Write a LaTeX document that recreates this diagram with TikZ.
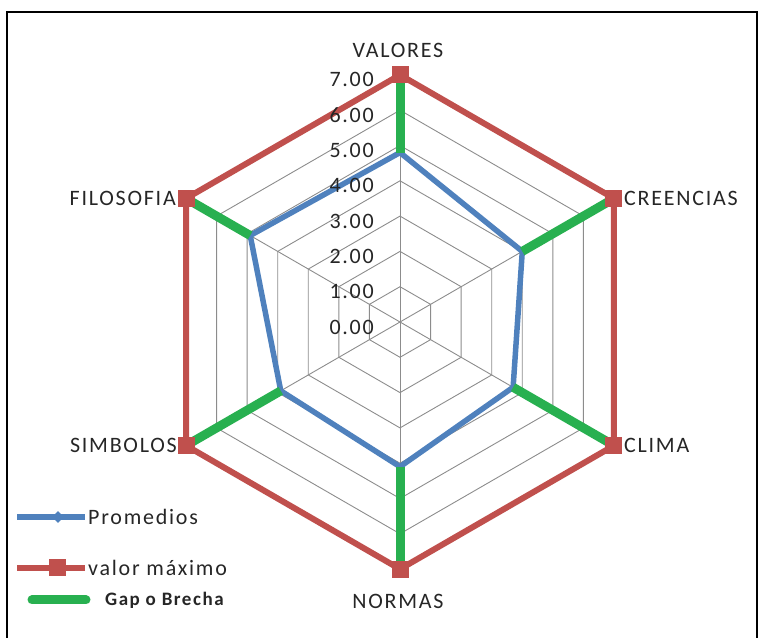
\documentclass[tikz,border=0pt]{standalone}
\usepackage{fontspec}
\setmainfont{Carlito}[LetterSpace=8]
\usetikzlibrary{shapes.geometric}
\definecolor{maxred}{RGB}{192,80,77}
\definecolor{promblue}{RGB}{79,129,189}
\definecolor{gapgreen}{RGB}{40,176,80}
\definecolor{gridgray}{RGB}{140,140,140}
\tikzset{
  gridline/.style={draw=gridgray, line width=0.9pt},
  maxline/.style={draw=maxred, line width=6pt},
  promline/.style={draw=promblue, line width=5.5pt},
  gapline/.style={draw=gapgreen, line width=9pt},
  sqmark/.style={fill=maxred, minimum size=17pt, inner sep=0pt},
  dmmark/.style={diamond, fill=promblue, minimum size=12pt, inner sep=0pt},
  txt/.style={font=\fontsize{22}{22}\selectfont, inner sep=0pt, text=black!85},
}
\begin{document}
\begin{tikzpicture}[x=1pt,y=1pt]
\useasboundingbox (0,0) rectangle (764,638);
\draw[line width=1.6pt] (7,-2) -- (7,626) -- (757,626) -- (757,-2);

\begin{scope}[shift={(400,316)}, x=35.3pt, y=35.3pt]
  % rejilla
  \foreach \r in {1,...,7}
    \draw[gridline] (90:\r) -- (30:\r) -- (-30:\r) -- (-90:\r) -- (-150:\r) -- (150:\r) -- cycle;
  \foreach \a in {90,30,...,-210}
    \draw[gridline] (0,0) -- (\a:7);
  % puntos
  \foreach \a/\v/\n in {90/4.8/A, 30/4.0/B, -30/3.7/C, -90/4.1/D, -150/3.9/E, 150/4.9/F} {
    \coordinate (p\n) at (\a:\v);
    \coordinate (m\n) at (\a:7);
  }
\end{scope}

\draw[promline] (pA) -- (pB) -- (pC) -- (pD) -- (pE) -- (pF) -- cycle;
\draw[maxline] (mA) -- (mB) -- (mC) -- (mD) -- (mE) -- (mF) -- cycle;
\foreach \n in {A,B,C,D,E,F}
  \draw[gapline] (p\n) -- (m\n);
\foreach \n in {A,B,C,D,E,F} {
  \node[sqmark] at (m\n) {};
}

% escala
\foreach \v in {0,...,7}
  \node[txt, anchor=east] (t\v) at (374, {311+35.3*\v}) {\v.00};

% ejes
\node[txt] (valores) at (398,588) {VALORES};
\node[txt, anchor=west] (creencias) at (624,440) {CREENCIAS};
\node[txt, anchor=west] (clima) at (624,193) {CLIMA};
\node[txt] (normas) at (398,37) {NORMAS};
\node[txt, anchor=east] (simbolos) at (177,193) {SIMBOLOS};
\node[txt, anchor=east] (filosofia) at (176,440) {FILOSOFIA};

% leyenda
\coordinate (l1a) at (17,121);
\coordinate (l1b) at (85,121);
\draw[promline] (l1a) -- (l1b);
\node[dmmark] (d1) at (58,121) {};
\node[txt, anchor=west] (lprom) at (88,121) {Promedios};

\coordinate (l2a) at (17,70);
\coordinate (l2b) at (85,70);
\draw[maxline] (l2a) -- (l2b);
\node[sqmark] (s2) at (57,70) {};
\node[txt, anchor=west] (lmax) at (88,70) {valor máximo};

\coordinate (l3a) at (32,38);
\coordinate (l3b) at (86,38);
\draw[gapline, line cap=round] (l3a) -- (l3b);
\node[txt, anchor=west, font=\fontsize{19}{19}\selectfont\bfseries] (lgap) at (105,38) {Gap o Brecha};
\end{tikzpicture}
\end{document}
